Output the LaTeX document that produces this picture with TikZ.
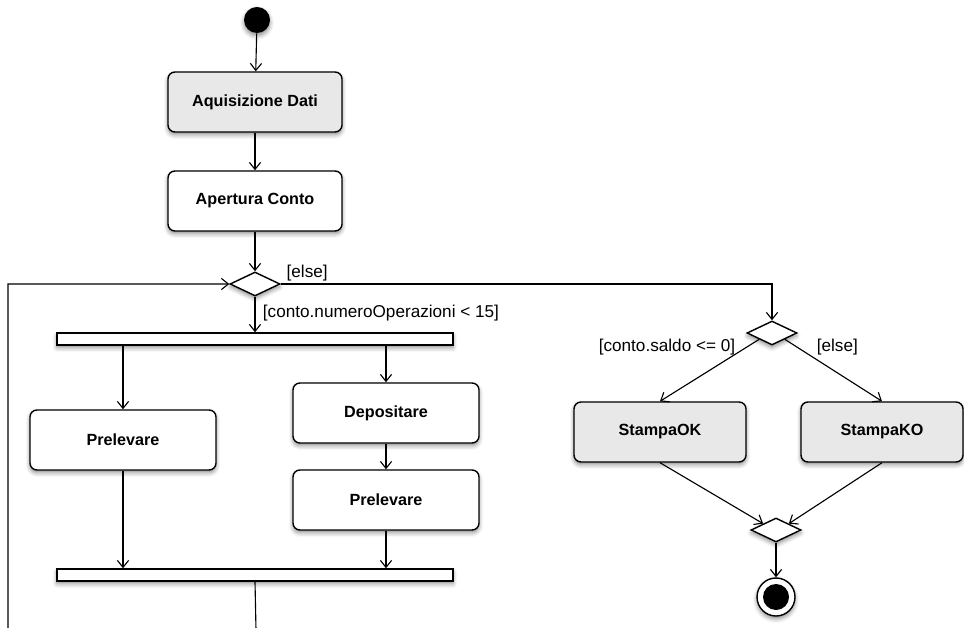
\documentclass[tikz,border=0pt]{standalone}
\usepackage{fontspec}
\setmainfont{Liberation Sans}
\usetikzlibrary{arrows.meta, shapes.geometric, shadows.blur}
\definecolor{actgray}{gray}{0.91}

\tikzset{
    shade/.style={blur shadow={shadow xshift=0pt, shadow yshift=-2pt, shadow blur radius=3pt, shadow opacity=45}},
    action/.style={draw, line width=1pt, rounded corners=5pt, fill=white, shade, minimum width=4.5cm, minimum height=1.5cm, font=\bfseries\fontsize{11.5}{13}\selectfont},
    grayaction/.style={action, fill=actgray},
    choice/.style={draw, line width=1pt, diamond, aspect=2, minimum width=1.25cm, minimum height=0.6cm, inner sep=0pt, fill=white, shade},
    bar/.style={draw, line width=1pt, fill=white, shade, minimum width=9.9cm, minimum height=0.3cm, inner sep=0pt},
    flow/.style={-{Straight Barb[length=5pt,width=8pt]}, thick},
    guard/.style={font=\fontsize{12.2}{14}\selectfont, inner sep=1pt}
}

\begin{document}
\begin{tikzpicture}[x=0.025cm, y=-0.025cm]
    \useasboundingbox (0,0) rectangle (964,628);
    \clip (0,0) rectangle (964,628);

    % start and first actions
    \node [circle, fill=black, minimum size=0.65cm, inner sep=0pt, shade] (start) at (257,20) {};
    \node [grayaction, minimum width=4.35cm] (acq) at (255,102) {Aquisizione Dati};
    \node [action, minimum width=4.35cm] (open) at (255,201) {Apertura Conto};
    \node [choice] (d1) at (255,284) {};

    % fork and parallel actions
    \node [bar] (fork) at (255,339) {};
    \node [action, minimum width=4.65cm] (prel) at (123,440) {Prelevare};
    \node [action, minimum width=4.65cm] (dep) at (386,413) {Depositare};
    \node [action, minimum width=4.65cm] (prel2) at (386,500) {Prelevare};
    \node [bar] (join) at (255,575) {};

    % right branch
    \node [choice] (d2) at (772,333) {};
    \node [grayaction, minimum width=4.3cm] (ok) at (660,432) {StampaOK};
    \node [grayaction, minimum width=4.05cm] (ko) at (882,432) {StampaKO};
    \node [choice] (d3) at (776,530) {};
    \node [circle, draw, line width=1pt, fill=white, minimum size=0.95cm, inner sep=0pt, shade] (stop) at (776,597) {};
    \node [circle, fill=black, minimum size=0.65cm, inner sep=0pt] (stopdot) at (stop) {};

    \coordinate (loopbot) at (256,630);
    \coordinate (loopleft) at (8,630);

    \draw [flow] (start) -- (acq);
    \draw [flow] (acq) -- (open);
    \draw [flow] (open) -- (d1);
    \draw [flow] (d1) -- node [guard, anchor=west, pos=0.45, xshift=0.15cm] {[conto.numeroOperazioni < 15]} (fork);
    \draw [flow] (d1.east) -- node [guard, anchor=south west, pos=0, xshift=0.1cm, yshift=1pt] {[else]} (d1.east -| d2.north) -- (d2.north);

    \draw [flow] (fork.south -| prel.north) -- (prel.north);
    \draw [flow] (fork.south -| dep.north) -- (dep.north);
    \draw [flow] (dep) -- (prel2);
    \draw [flow] (prel.south) -- (prel.south |- join.north);
    \draw [flow] (prel2.south) -- (prel2.south |- join.north);
    \draw [flow] (join.south) -- (loopbot) -- (loopleft) -- (loopleft |- d1) -- (d1.west);

    \draw [flow] (d2.south west) -- node [guard, anchor=east, pos=0, xshift=-0.55cm, yshift=-0.2cm] {[conto.saldo <= 0]} (ok.north);
    \draw [flow] (d2.south east) -- node [guard, anchor=west, pos=0, xshift=0.75cm, yshift=-0.2cm] {[else]} (ko.north);
    \draw [flow] (ok.south) -- (d3.north west);
    \draw [flow] (ko.south) -- (d3.north east);
    \draw [flow] (d3) -- (stop);
\end{tikzpicture}
\end{document}
